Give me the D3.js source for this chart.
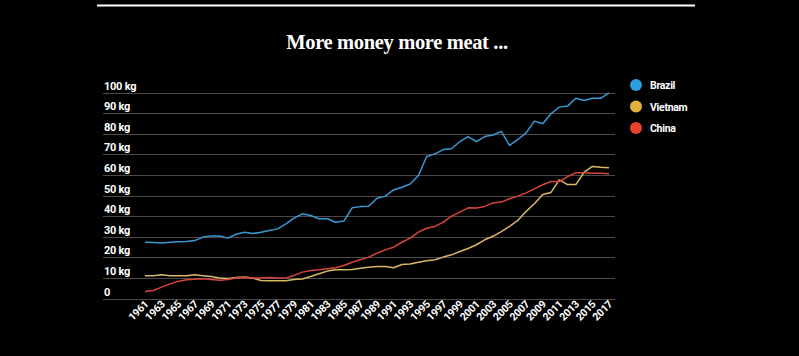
<!DOCTYPE html>
<html>
<head>
<meta charset="utf-8">
<script src="https://cdn.jsdelivr.net/npm/d3@7"></script>
<style>
  html, body { margin: 0; padding: 0; background: #000; }
  svg { display: block; }
</style>
</head>
<body>
<script>
const years = d3.range(1961, 2018);
const brazil = [27.3,27.2,27.0,27.3,27.6,27.7,28.1,29.8,30.4,30.3,29.3,31.2,32.2,31.5,32.2,33.0,33.8,36.2,39.0,41.1,40.3,38.7,38.7,37.0,37.6,44.0,44.6,44.8,48.7,49.7,52.7,54.0,55.6,59.7,68.9,70.2,72.3,72.7,76.2,78.6,76.2,78.6,79.4,81.1,74.3,77.2,80.4,86.1,84.8,89.7,92.9,93.4,97.2,96.1,97.2,97.2,99.8];
const vietnam = [11.0,11.1,11.5,11.1,11.0,11.0,11.5,11.1,10.7,10.0,9.7,10.2,10.4,9.9,8.7,8.6,8.6,8.6,9.2,9.5,10.7,12.0,13.3,13.9,13.9,14.1,14.7,15.2,15.5,15.5,14.9,16.5,16.7,17.6,18.3,18.8,20.1,21.2,22.8,24.3,26.1,28.5,30.2,32.5,35.0,37.9,42.3,46.0,50.5,51.5,57.6,55.3,55.3,61.3,64.1,63.7,63.5];
const china = [3.4,3.9,5.5,7.1,8.3,9.1,9.4,9.6,9.2,8.9,9.2,9.9,10.2,9.9,9.9,10.2,10.0,10.0,11.2,12.8,13.6,13.9,14.4,14.9,16.0,17.6,18.8,20.1,22.0,23.6,24.9,27.3,29.3,32.2,34.1,35.0,37.1,40.0,41.9,44.0,43.9,44.7,46.4,46.8,48.4,49.7,51.3,53.2,55.2,56.8,56.8,59.2,61.0,61.0,60.8,60.8,60.6];
const seriesNames = ["Brazil", "Vietnam", "China"];
const seriesColors = ["#2d9fdc", "#e2b23c", "#e8402c"];
const lineColors = ["#3a9ad6", "#d9b866", "#d8463a"];
const yTicks = [0,10,20,30,40,50,60,70,80,90,100];
const xTicks = d3.range(1961, 2018, 2);
const title = "More money more meat ...";

const W = 799, H = 356;
const svg = d3.select("body").append("svg").attr("width", W).attr("height", H);

svg.append("rect").attr("width", W).attr("height", H).attr("fill", "#000");

// top rule
svg.append("line").attr("x1", 97).attr("x2", 695).attr("y1", 5.5).attr("y2", 5.5)
  .attr("stroke", "#fff").attr("stroke-width", 2);

svg.append("text").attr("x", 397).attr("y", 49).attr("text-anchor", "middle")
  .attr("fill", "#fff").attr("font-family", "'Liberation Serif', 'DejaVu Serif', serif")
  .attr("font-weight", "bold").attr("font-size", 20.5).attr("letter-spacing", -0.35)
  .text(title);

const x = d3.scaleLinear().domain([1961, 2017]).range([145, 609]);
const y = d3.scaleLinear().domain([0, 100]).range([298.5, 92.5]);

// gridlines
const grid = svg.append("g");
grid.selectAll("line").data(yTicks).join("line")
  .attr("x1", 103).attr("x2", 615)
  .attr("y1", d => Math.round(y(d)) + 0.5).attr("y2", d => Math.round(y(d)) + 0.5)
  .attr("stroke", "#4a4a4a").attr("stroke-width", 1);

grid.selectAll("text").data(yTicks).join("text")
  .attr("x", 104).attr("y", d => Math.round(y(d)) - 3)
  .attr("fill", "#fff").attr("font-family", "Roboto, 'Liberation Sans', sans-serif")
  .attr("font-weight", "bold").attr("font-size", 11).attr("letter-spacing", -0.25)
  .text(d => d === 0 ? "0" : d + " kg");

// x axis labels
const xl = svg.append("g");
xl.selectAll("text").data(xTicks).join("text")
  .attr("transform", d => `translate(${x(d) + 4},${305}) rotate(-45)`)
  .attr("text-anchor", "end")
  .attr("fill", "#fff").attr("font-family", "Roboto, 'Liberation Sans', sans-serif")
  .attr("font-weight", "bold").attr("font-size", 10.5).attr("letter-spacing", -0.3)
  .text(d => d);

// lines
const data = [brazil, vietnam, china];
const line = d3.line().x((d, i) => x(years[i])).y(d => y(d));
svg.append("g").selectAll("path").data(data).join("path")
  .attr("d", line).attr("fill", "none")
  .attr("stroke", (d, i) => lineColors[i]).attr("stroke-width", 1.5)
  .attr("stroke-linejoin", "round");

// legend
const lg = svg.append("g").selectAll("g").data(seriesNames).join("g")
  .attr("transform", (d, i) => `translate(636,${85 + i * 21.5})`);
lg.append("circle").attr("r", 6).attr("fill", (d, i) => seriesColors[i]);
lg.append("text").attr("x", 14).attr("y", 4)
  .attr("fill", "#fff").attr("font-family", "Roboto, 'Liberation Sans', sans-serif")
  .attr("font-weight", "bold").attr("font-size", 10.5).attr("letter-spacing", -0.3)
  .text(d => d);
</script>
</body>
</html>
